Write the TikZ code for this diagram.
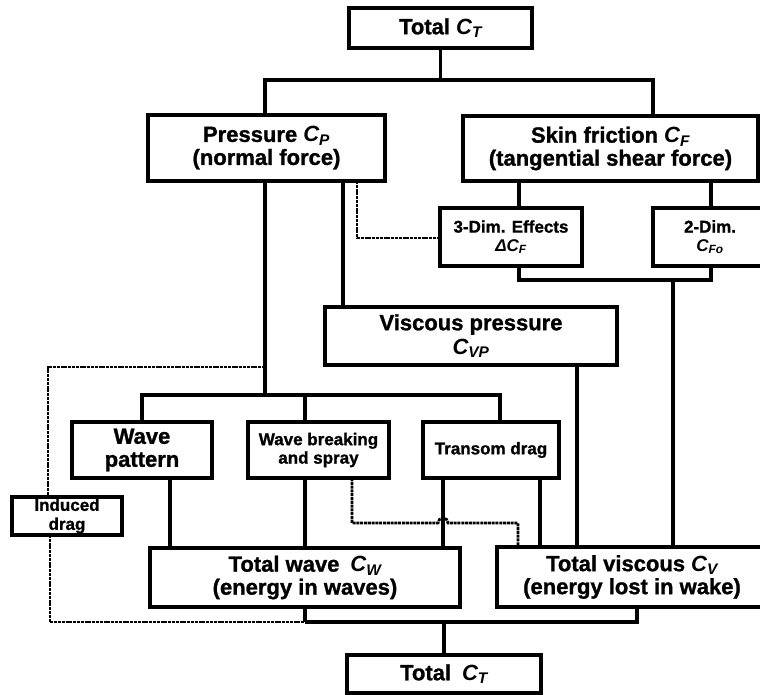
\documentclass[tikz,border=0pt]{standalone}
\usepackage{fontspec}
\setmainfont{Liberation Sans}[BoldFeatures={FakeBold=1.2}]
\newcommand\Csub[1]{{\itshape C\textsubscript{#1}}}
\tikzset{
  box/.style={draw, line width=3.4pt, inner sep=0pt, outer sep=0pt, align=center, font=\fontsize{22}{23}\selectfont\bfseries},
  sbox/.style={draw, line width=3.1pt, inner sep=0pt, outer sep=0pt, align=center, font=\fontsize{17}{18.5}\selectfont\bfseries},
  conn/.style={line width=3.1pt},
  dotline/.style={line width=2.8pt, dash pattern=on 3pt off 0.8pt},
}
\begin{document}
\begin{tikzpicture}[x=1pt,y=-1pt]
\useasboundingbox[fill=white] (0,0) rectangle (760,695);
% boxes
\node[box, minimum width=183, minimum height=40] (T1) at (440.5,28) {Total \Csub{T}};
\node[box, minimum width=237, minimum height=66] (P) at (266.5,148) {Pressure \Csub{P}\\(normal force)};
\node[box, minimum width=295, minimum height=65] (S) at (610.5,148.5) {Skin friction \Csub{F}\\(tangential shear force)};
\node[sbox, minimum width=142, minimum height=58] (D3) at (511,237) {3-Dim. Effects\\{\itshape Δ}\Csub{F}};
\node[sbox, minimum width=114, minimum height=58] (D2) at (710,237) {2-Dim.\\\Csub{Fo}};
\node[sbox, font=\fontsize{22}{24}\selectfont\bfseries, minimum width=292, minimum height=58] (VP) at (471,336) {Viscous pressure\\\Csub{VP}};
\node[box, minimum width=140, minimum height=56] (WP) at (142,450) {Wave\\pattern};
\node[sbox, minimum width=141, minimum height=56] (WB) at (318.5,450) {Wave breaking\\and spray};
\node[sbox, minimum width=136, minimum height=56] (TD) at (491,450) {Transom drag};
\node[sbox, font=\fontsize{17}{19}\selectfont\bfseries, minimum width=110, minimum height=38] (ID) at (67,516) {Induced\\drag};
\node[box, minimum width=310, minimum height=59] (TW) at (305,577.5) {Total wave\enspace\Csub{W}\\(energy in waves)};
\node[box, minimum width=270, minimum height=60] (TV) at (632,577) {Total viscous \Csub{V}\\(energy lost in wake)};
\node[box, minimum width=194, minimum height=38] (B) at (444,674) {Total\enspace\Csub{T}};
% junction coordinates
\coordinate (b1L) at (265,80);
\coordinate (b1R) at (653,80);
\coordinate (wbus) at (265,395);
\coordinate (wL) at (142,395);
\coordinate (wM) at (305,395);
\coordinate (wR) at (500,395);
\coordinate (pv) at (343,0);
\coordinate (pd) at (357,238);
\coordinate (sd3) at (519,0);
\coordinate (sd2) at (711,0);
\coordinate (c3) at (519,280);
\coordinate (c2) at (711,280);
\coordinate (cv) at (673,280);
\coordinate (vpx) at (577,0);
\coordinate (ir) at (265,367);
\coordinate (il) at (48,367);
\coordinate (wpx) at (170,0);
\coordinate (wbx) at (305,0);
\coordinate (wbd) at (352,523);
\coordinate (hopL) at (438,523);
\coordinate (wbe) at (518,523);
\coordinate (tdx) at (443,0);
\coordinate (tdv) at (540,0);
\coordinate (bl) at (50,622);
\coordinate (bw) at (305,622);
\coordinate (bb) at (444,622);
\coordinate (br) at (637,622);
% top level
\draw[conn] (T1.south) -- (T1.south |- b1L);
\draw[conn] (b1L |- P.north) -- (b1L) -- (b1R) -- (b1R |- S.north);
% under pressure
\draw[conn] (wbus |- P.south) -- (wbus);
\draw[conn] (pv |- P.south) -- (pv |- VP.north);
\draw[dotline] (pd |- P.south) -- (pd) -- (pd -| D3.west);
% under skin friction
\draw[conn] (sd3 |- S.south) -- (sd3 |- D3.north);
\draw[conn] (sd2 |- S.south) -- (sd2 |- D2.north);
\draw[conn] (c3 |- D3.south) -- (c3) -- (c2) -- (c2 |- D2.south);
\draw[conn] (cv) -- (cv |- TV.north);
\draw[conn] (vpx |- VP.south) -- (vpx |- TV.north);
% induced drag loop
\draw[dotline] (ir) -- (il) -- (il |- ID.north);
% wave bus
\draw[conn] (wL |- WP.north) -- (wL) -- (wR) -- (wR |- TD.north);
\draw[conn] (wM) -- (wM |- WB.north);
% to totals
\draw[conn] (wpx |- WP.south) -- (wpx |- TW.north);
\draw[conn] (wbx |- WB.south) -- (wbx |- TW.north);
\draw[dotline] (wbd |- WB.south) -- (wbd) -- (hopL) arc[start angle=180, end angle=360, radius=5] -- (wbe) -- (wbe |- TV.north);
\draw[conn] (tdx |- TD.south) -- (tdx |- TW.north);
\draw[conn] (tdv |- TD.south) -- (tdv |- TV.north);
% bottom bus
\draw[dotline] (bl |- ID.south) -- (bl) -- (bw);
\draw[conn] (bw) -- (br) -- (br |- TV.south);
\draw[conn] (wbx |- TW.south) -- (bw);
\draw[conn] (bb) -- (bb |- B.north);
\end{tikzpicture}
\end{document}
